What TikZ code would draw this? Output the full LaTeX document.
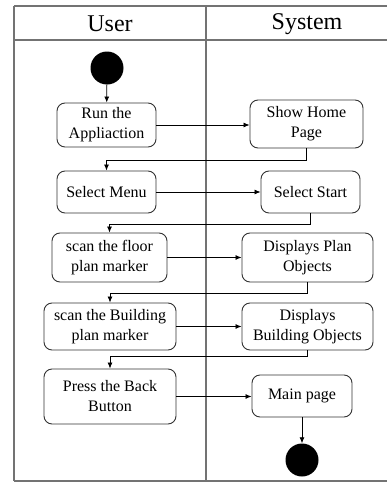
\documentclass[tikz,border=0pt]{standalone}
\usepackage{fontspec}
\setmainfont{Liberation Serif}
\usetikzlibrary{arrows.meta}
\begin{document}
\begin{tikzpicture}[x=1pt,y=-1pt,
  act/.style={draw=black!80,line width=0.9pt,rounded corners=8pt,align=center,
    inner sep=0pt,font=\fontsize{16}{20}\selectfont},
  frame/.style={draw=black!55,line width=1.3pt},
  arr/.style={draw=black,line width=0.8pt,-{Latex[length=6pt,width=5pt]}},
  dot/.style={circle,fill=black,minimum size=33pt,inner sep=0pt}]
\useasboundingbox (0,0) rectangle (387,482);
% frame
\draw[frame] (14,6) -- (388,6);
\draw[frame] (14,40) -- (388,40);
\draw[frame] (14,481) -- (388,481);
\draw[frame] (14,6) -- (14,481);
\draw[frame] (206,6) -- (206,481);
\node[font=\fontsize{24}{28}\selectfont] (huser) at (110,24) {User};
\node[font=\fontsize{24}{28}\selectfont] (hsys) at (307,24) {System};
% nodes
\node[dot] (start) at (107,68) {};
\node[act,minimum width=99pt,minimum height=44pt] (run) at (106.5,125) {Run the\\Appliaction};
\node[act,minimum width=113pt,minimum height=48pt] (show) at (306.5,124) {Show Home\\Page};
\node[act,minimum width=99pt,minimum height=42pt] (menu) at (106.5,192) {Select Menu};
\node[act,minimum width=99pt,minimum height=42pt] (sstart) at (310.5,192) {Select Start};
\node[act,minimum width=115pt,minimum height=49pt] (floor) at (109.5,257.5) {scan the floor\\plan marker};
\node[act,minimum width=131pt,minimum height=49pt] (plan) at (307.5,257.5) {Displays Plan\\Objects};
\node[act,minimum width=132pt,minimum height=47pt] (build) at (110,326.5) {scan the Building\\plan marker};
\node[act,minimum width=131pt,minimum height=47pt] (bobj) at (307.5,326.5) {Displays\\Building Objects};
\node[act,minimum width=132pt,minimum height=55pt] (back) at (110,396.5) {Press the Back\\Button};
\node[act,minimum width=100pt,minimum height=42pt] (mainp) at (302,396) {Main page};
\node[dot] (end) at (302,460) {};
% connectors
\draw[arr] (start) -- (run);
\draw[arr] (run.east) -- (run.east -| show.west);
\draw[arr] (show.south) -- (show.south |- 0,160) -| (menu.north);
\draw[arr] (menu.east) -- (sstart.west);
\draw[arr] (sstart.south) -- (sstart.south |- 0,224) -| (floor.north);
\draw[arr] (floor.east) -- (plan.west);
\draw[arr] (plan.south) -- (plan.south |- 0,293) -| (build.north);
\draw[arr] (build.east) -- (bobj.west);
\draw[arr] (bobj.south) -- (bobj.south |- 0,356) -| (back.north);
\draw[arr] (back.east) -- (back.east -| mainp.west);
\draw[arr] (mainp) -- (end);
\end{tikzpicture}
\end{document}
